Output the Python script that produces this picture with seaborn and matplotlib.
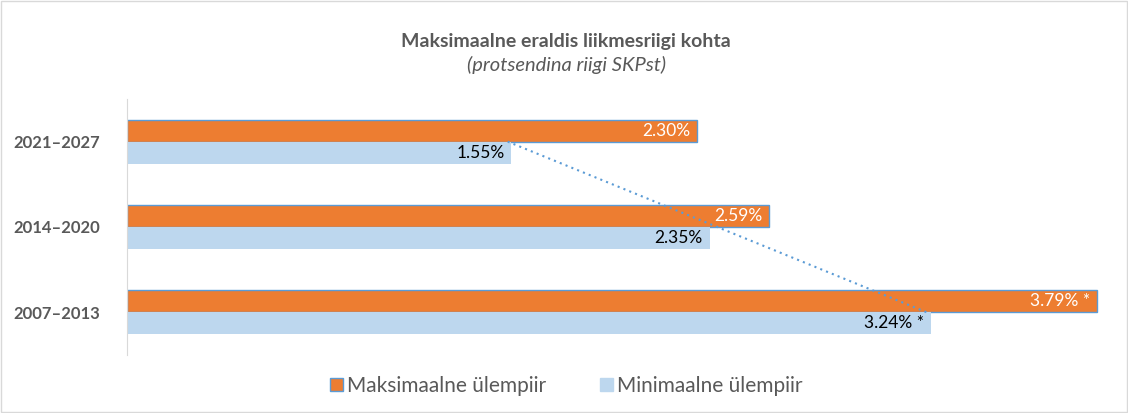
import numpy as np
import pandas as pd
import seaborn as sns
import matplotlib.pyplot as plt
from matplotlib.patches import Rectangle, Patch

periods = ["2021–2027", "2014–2020", "2007–2013"]
series = ["Maksimaalne ülempiir", "Minimaalne ülempiir"]
max_vals = [2.30, 2.59, 3.91]
min_vals = [1.55, 2.35, 3.24]
max_labels = ["2.30%", "2.59%", "3.79% *"]
min_labels = ["1.55%", "2.35%", "3.24% *"]

df = pd.DataFrame({
    "Period": periods * 2,
    "Series": [series[0]] * 3 + [series[1]] * 3,
    "Value": max_vals + min_vals,
})

sns.set_style("white")
plt.rcParams["font.family"] = ["Lato", "DejaVu Sans"]

orange = "#ED7D31"
light_blue = "#BDD7EE"
edge_blue = "#5B9BD5"
gray = "#595959"

fig = plt.figure(figsize=(11.28, 4.13), dpi=100)
ax = fig.add_axes([0.1126, 0.1404, 0.8794, 0.62])

sns.barplot(
    data=df, x="Value", y="Period", hue="Series",
    order=periods, hue_order=series,
    palette=[orange, light_blue], saturation=1, orient="h",
    width=0.515, gap=0, errorbar=None, ax=ax, legend=False,
)

# bar outlines: orange bars get a thin blue edge
for bar in ax.containers[0]:
    bar.set_edgecolor(edge_blue)
    bar.set_linewidth(1)
for bar in ax.containers[1]:
    bar.set_linewidth(0)

ax.bar_label(ax.containers[0], labels=max_labels, padding=-5, label_type="edge",
             color="white", fontsize=12.5)
ax.bar_label(ax.containers[1], labels=min_labels, padding=-5, label_type="edge",
             color="black", fontsize=12.5)
for t in ax.texts:
    t.set_horizontalalignment("right")

# linear trendline of the minimum series
pos = np.arange(len(periods))
k, b = np.polyfit(pos, min_vals, 1)
ax.plot(k * pos + b, pos, linestyle=(0, (1, 2)), color=edge_blue, linewidth=1.5)

ax.set_xlim(0, 4)
ax.set_ylim(2.5, -0.5)
ax.set_xticks([])
ax.set_xlabel("")
ax.set_ylabel("")
ax.tick_params(axis="y", length=0, pad=19)
for lbl in ax.get_yticklabels():
    lbl.set_fontweight("bold")
    lbl.set_color(gray)
    lbl.set_fontsize(12)
for s in ["top", "right", "bottom"]:
    ax.spines[s].set_visible(False)
ax.spines["left"].set_color("#D9D9D9")

fig.text(0.502, 0.90, "Maksimaalne eraldis liikmesriigi kohta", ha="center", va="center",
         fontsize=14, fontweight="bold", color=gray)
fig.text(0.502, 0.842, "(protsendina riigi SKPst)", ha="center", va="center",
         fontsize=14.5, style="italic", color=gray)

handles = [Patch(facecolor=orange, edgecolor=edge_blue), Patch(facecolor=light_blue, edgecolor=light_blue)]
fig.legend(handles, series, loc="center", bbox_to_anchor=(0.502, 0.066), ncol=2, frameon=False,
           fontsize=15, labelcolor=gray, handlelength=0.6, handleheight=0.6,
           handletextpad=0.2, columnspacing=2.6)

fig.patches.append(Rectangle((0.001, 0.002), 0.998, 0.996, transform=fig.transFigure,
                             fill=False, edgecolor="#D9D9D9", linewidth=1))

fig.savefig("out.png", dpi=100)
